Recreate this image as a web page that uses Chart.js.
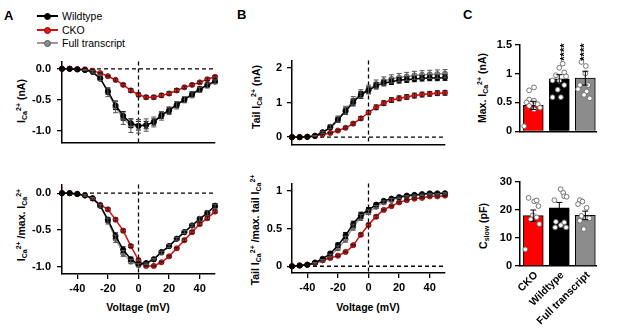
<!DOCTYPE html>
<html>
<head>
<meta charset="utf-8">
<script src="https://cdn.jsdelivr.net/npm/chart.js@4.4.0/dist/chart.umd.min.js"></script>
<style>
  body { margin: 0; width: 617px; height: 329px; position: relative; overflow: hidden; background: #fff;
         font-family: "Liberation Sans", Arial, sans-serif; color: #000; }
  canvas { position: absolute; }
  .panel { position: absolute; font-weight: bold; font-size: 13px; line-height: 13px; }
  .yt { position: absolute; font-weight: bold; font-size: 10.5px; white-space: nowrap; line-height: 12px;
        transform: translate(-50%, -50%) rotate(-90deg); }
  .xt { position: absolute; font-weight: bold; font-size: 10.5px; white-space: nowrap; line-height: 12px;
        transform: translate(-50%, -50%); }
  .yt sub, .yt sup { font-size: 7px; position: relative; vertical-align: baseline; }
  .yt sub { top: 2px; }
  .yt sup { top: -4px; }
  .leg { position: absolute; left: 37px; height: 0; }
  .leg i { position: absolute; left: 0; top: -0.75px; width: 21px; height: 1.5px; }
  .leg b { position: absolute; left: 7px; top: -3.5px; width: 5px; height: 5px; border-radius: 50%; border: 1px solid; }
  .leg span { position: absolute; left: 25px; top: -7px; font-size: 10.5px; line-height: 14px; white-space: nowrap; }
</style>
</head>
<body>
<div class="panel" style="left:4px;top:9px">A</div>
<div class="panel" style="left:237px;top:8px">B</div>
<div class="panel" style="left:463px;top:8px">C</div>

<div class="leg" style="top:16px"><i style="background:#000"></i><b style="background:#000;border-color:#000"></b><span>Wildtype</span></div>
<div class="leg" style="top:30px"><i style="background:#d41010"></i><b style="background:#e01818;border-color:#900"></b><span>CKO</span></div>
<div class="leg" style="top:43px"><i style="background:#999"></i><b style="background:#8c8c8c;border-color:#555"></b><span>Full transcript</span></div>

<div class="yt" style="left:22px;top:101px">I<sub>Ca</sub><sup>2+</sup> (nA)</div>
<div class="yt" style="left:22px;top:225px">I<sub>Ca</sub><sup>2+</sup> /max. I<sub>Ca</sub><sup>2+</sup></div>
<div class="yt" style="left:257px;top:97px">Tail I<sub>Ca</sub><sup>2+</sup> (nA)</div>
<div class="yt" style="left:256px;top:230px">Tail I<sub>Ca</sub><sup>2+</sup> /max. tail I<sub>Ca</sub><sup>2+</sup></div>
<div class="yt" style="left:483px;top:88px">Max. I<sub>Ca</sub><sup>2+</sup> (nA)</div>
<div class="yt" style="left:484px;top:226px">C<sub>slow</sub> (pF)</div>
<div class="xt" style="left:138px;top:307px">Voltage (mV)</div>
<div class="xt" style="left:368px;top:307px">Voltage (mV)</div>

<canvas id="aTop"></canvas>
<canvas id="aBot"></canvas>
<canvas id="bTop"></canvas>
<canvas id="bBot"></canvas>
<canvas id="cTop"></canvas>
<canvas id="cBot"></canvas>

<script>
// voltage steps (mV)
const volts = [-50, -45, -40, -35, -30, -25, -20, -15, -10, -5, 0, 5, 10, 15, 20, 25, 30, 35, 40, 45, 50];
const voltTicks = [-40, -20, 0, 20, 40];

// A top: peak ICa (nA)
const aTopWT  = [0, 0, -0.01, -0.02, -0.05, -0.16, -0.36, -0.59, -0.76, -0.88, -0.92, -0.91, -0.86, -0.75, -0.67, -0.58, -0.50, -0.41, -0.33, -0.26, -0.20];
const aTopCKO = [0, 0, -0.005, -0.01, -0.03, -0.07, -0.12, -0.18, -0.26, -0.35, -0.42, -0.46, -0.46, -0.43, -0.40, -0.35, -0.30, -0.26, -0.22, -0.17, -0.13];
const aTopFT  = [0, 0, -0.01, -0.02, -0.05, -0.15, -0.38, -0.62, -0.80, -0.92, -0.93, -0.91, -0.86, -0.76, -0.68, -0.59, -0.50, -0.42, -0.34, -0.27, -0.21];
const aTopWTErr  = [0, 0, 0, 0.01, 0.01, 0.03, 0.05, 0.07, 0.07, 0.07, 0.07, 0.06, 0.05, 0.05, 0.05, 0.05, 0.04, 0.04, 0.04, 0.03, 0.03];
const aTopCKOErr = [0, 0, 0, 0, 0.01, 0.01, 0.01, 0.02, 0.02, 0.03, 0.03, 0.03, 0.03, 0.03, 0.03, 0.03, 0.02, 0.02, 0.02, 0.02, 0.02];
const aTopFTErr  = [0, 0, 0, 0.01, 0.02, 0.04, 0.07, 0.09, 0.10, 0.11, 0.11, 0.10, 0.08, 0.07, 0.06, 0.06, 0.05, 0.05, 0.04, 0.04, 0.03];
const aTopTicks = [0, -0.5, -1];

// A bottom: normalised ICa
const aBotWT  = [0, 0, -0.01, -0.03, -0.07, -0.17, -0.36, -0.58, -0.77, -0.90, -0.97, -0.95, -0.90, -0.80, -0.72, -0.62, -0.53, -0.44, -0.35, -0.27, -0.17];
const aBotCKO = [0, 0, -0.01, -0.03, -0.07, -0.16, -0.22, -0.36, -0.51, -0.72, -0.91, -0.99, -0.99, -0.94, -0.86, -0.75, -0.64, -0.53, -0.42, -0.34, -0.25];
const aBotFT  = [0, 0, -0.01, -0.03, -0.07, -0.17, -0.38, -0.62, -0.82, -0.93, -0.98, -0.96, -0.90, -0.81, -0.72, -0.62, -0.53, -0.44, -0.35, -0.27, -0.18];
const aBotWTErr  = [0, 0, 0, 0.01, 0.01, 0.02, 0.03, 0.04, 0.04, 0.03, 0.02, 0.01, 0.01, 0.02, 0.02, 0.02, 0.02, 0.02, 0.02, 0.03, 0.03];
const aBotCKOErr = [0, 0, 0, 0.01, 0.01, 0.01, 0.02, 0.02, 0.02, 0.02, 0.02, 0.01, 0.01, 0.01, 0.01, 0.01, 0.02, 0.02, 0.02, 0.02, 0.02];
const aBotFTErr  = [0, 0, 0, 0.01, 0.01, 0.02, 0.04, 0.05, 0.04, 0.03, 0.02, 0.01, 0.01, 0.02, 0.02, 0.02, 0.02, 0.02, 0.03, 0.03, 0.03];
const aBotTicks = [0, -0.5, -1];

// B top: tail ICa (nA)
const bTopWT  = [0, 0, 0.01, 0.04, 0.14, 0.28, 0.50, 0.75, 1.00, 1.22, 1.35, 1.48, 1.56, 1.60, 1.64, 1.66, 1.68, 1.70, 1.71, 1.71, 1.72];
const bTopCKO = [0, 0, 0.01, 0.03, 0.08, 0.12, 0.19, 0.27, 0.39, 0.54, 0.71, 0.86, 0.98, 1.07, 1.12, 1.16, 1.20, 1.23, 1.25, 1.27, 1.28];
const bTopFT  = [0, 0, 0.01, 0.04, 0.14, 0.30, 0.52, 0.78, 1.05, 1.25, 1.38, 1.53, 1.62, 1.68, 1.72, 1.75, 1.78, 1.80, 1.81, 1.82, 1.83];
const bTopWTErr  = [0, 0, 0, 0.01, 0.03, 0.05, 0.07, 0.09, 0.10, 0.10, 0.10, 0.09, 0.08, 0.08, 0.08, 0.08, 0.08, 0.08, 0.08, 0.08, 0.08];
const bTopCKOErr = [0, 0, 0, 0.01, 0.01, 0.02, 0.02, 0.03, 0.04, 0.05, 0.06, 0.07, 0.07, 0.07, 0.07, 0.07, 0.07, 0.07, 0.07, 0.07, 0.07];
const bTopFTErr  = [0, 0, 0, 0.01, 0.03, 0.06, 0.09, 0.11, 0.12, 0.12, 0.12, 0.12, 0.12, 0.12, 0.12, 0.12, 0.12, 0.12, 0.12, 0.12, 0.12];
const bTopTicks = [0, 1, 2];

// B bottom: normalised tail ICa
const bBotWT  = [0, 0.01, 0.02, 0.05, 0.10, 0.17, 0.28, 0.41, 0.56, 0.68, 0.75, 0.82, 0.87, 0.90, 0.92, 0.94, 0.95, 0.96, 0.97, 0.97, 0.97];
const bBotCKO = [0, 0.01, 0.02, 0.04, 0.08, 0.11, 0.14, 0.19, 0.28, 0.42, 0.55, 0.66, 0.75, 0.80, 0.85, 0.88, 0.90, 0.91, 0.93, 0.93, 0.94];
const bBotFT  = [0, 0.01, 0.02, 0.04, 0.08, 0.14, 0.24, 0.36, 0.52, 0.65, 0.72, 0.79, 0.85, 0.88, 0.91, 0.93, 0.94, 0.95, 0.96, 0.96, 0.97];
const bBotWTErr  = [0, 0, 0, 0.01, 0.01, 0.02, 0.03, 0.04, 0.04, 0.04, 0.03, 0.02, 0.02, 0.01, 0.01, 0.01, 0.01, 0.01, 0.01, 0.01, 0.01];
const bBotCKOErr = [0, 0, 0, 0.01, 0.01, 0.01, 0.01, 0.01, 0.01, 0.02, 0.02, 0.02, 0.01, 0.01, 0.01, 0.01, 0.01, 0.01, 0.01, 0.01, 0.01];
const bBotFTErr  = [0, 0, 0, 0.01, 0.01, 0.02, 0.03, 0.04, 0.04, 0.04, 0.03, 0.02, 0.02, 0.02, 0.01, 0.01, 0.01, 0.01, 0.01, 0.01, 0.01];
const bBotTicks = [0, 0.5, 1];

// C: group summaries (CKO, Wildtype, Full transcript)
const groups = ['CKO', 'Wildtype', 'Full transcript'];
const cTopMean = [0.45, 0.91, 0.92];
const cTopErr  = [0.07, 0.07, 0.12];
const cTopCKO = [0.76, 0.71, 0.55, 0.50, 0.53, 0.47, 0.44, 0.41, 0.38, 0.09];
const cTopCKOJit = [0.03, -0.16, -0.16, -0.26, 0.03, 0.17, -0.16, 0.26, 0.03, -0.35];
const cTopWT  = [1.17, 1.10, 1.02, 0.97, 0.95, 0.88, 0.87, 0.80, 0.72, 0.59, 0.59];
const cTopWTJit  = [0.13, 0, 0.19, -0.13, 0.26, -0.26, 0, 0.19, -0.06, -0.26, 0.06];
const cTopFT  = [1.20, 1.13, 1.00, 0.80, 0.80, 0.73, 0.69, 0.63, 0.57];
const cTopFTJit  = [-0.15, 0.02, 0, -0.21, 0.11, -0.28, 0.05, -0.05, 0.17];
const cTopTicks = [0, 0.5, 1, 1.5];

const cBotMean = [17.9, 20.7, 18.0];
const cBotErr  = [2.0, 1.9, 1.5];
const cBotCKO = [24.2, 23.0, 23.3, 21.3, 18.0, 16.6, 17.3, 14.9, 5.9];
const cBotCKOJit = [-0.18, 0.04, 0.13, 0.2, -0.02, -0.09, 0.13, 0.23, -0.31];
const cBotWT  = [27.3, 26.0, 23.4, 24.8, 24.6, 15.7, 15.5, 14.5, 13.7, 13.7];
const cBotWTJit  = [0.05, 0.15, -0.19, 0.19, 0.28, -0.13, 0.19, 0.06, -0.16, 0.26];
const cBotFT  = [23.4, 22.9, 22.0, 20.7, 17.8, 16.9, 16.1, 16.9, 13.1];
const cBotFTJit  = [-0.21, -0.11, -0.28, 0.05, -0.15, 0.02, -0.21, 0.15, -0.06];
const cBotTicks = [0, 10, 20, 30];

Chart.defaults.font.family = '"Liberation Sans", Arial, sans-serif';
Chart.defaults.font.size = 11;
Chart.defaults.font.weight = 'bold';
Chart.defaults.color = '#000';
Chart.defaults.animation = false;

const PAD_T = 8, PAD_R = 6;

// size and position a canvas so that its plot area lands on the given page box
function place(id, area, yw, xh) {
  const c = document.getElementById(id);
  c.width = area[2] - area[0] + yw + PAD_R;
  c.height = area[3] - area[1] + xh + PAD_T;
  c.style.left = (area[0] - yw) + 'px';
  c.style.top = (area[1] - PAD_T) + 'px';
  return c;
}

function axis(min, max, ticks, fmt, pad, fit) {
  const shown = ticks.length > 0;
  return {
    type: 'linear', min: min, max: max, offset: false,
    afterBuildTicks: s => { if (shown) s.ticks = ticks.map(v => ({ value: v })); },
    afterFit: fit,
    ticks: { display: shown, callback: fmt, padding: pad, autoSkip: false, maxRotation: 0 },
    grid: { display: shown, drawOnChartArea: false, drawTicks: true, tickLength: 5, color: '#000', lineWidth: 1.3 },
    border: { display: true, color: '#000', width: 1.5 }
  };
}

const errorBars = {
  id: 'errorBars',
  afterDatasetsDraw(chart) {
    const ctx = chart.ctx, ys = chart.scales.y;
    chart.data.datasets.forEach((ds, i) => {
      if (!ds.errors) return;
      const meta = chart.getDatasetMeta(i);
      ctx.save();
      ctx.strokeStyle = ds.errColor || '#000';
      ctx.lineWidth = 1;
      meta.data.forEach((el, j) => {
        const e = ds.errors[j];
        if (!e) return;
        const v = ds.data[j].y;
        const y1 = ys.getPixelForValue(v + e), y2 = ys.getPixelForValue(v - e);
        const x = el.x, w = ds.capW || 2.5;
        ctx.beginPath();
        ctx.moveTo(x, y1); ctx.lineTo(x, y2);
        ctx.moveTo(x - w, y1); ctx.lineTo(x + w, y1);
        ctx.moveTo(x - w, y2); ctx.lineTo(x + w, y2);
        ctx.stroke();
      });
      ctx.restore();
    });
  }
};

const zeroLines = {
  id: 'zeroLines',
  beforeDatasetsDraw(chart) {
    const { ctx, chartArea: a, scales: { x, y } } = chart;
    const y0 = y.getPixelForValue(0), x0 = x.getPixelForValue(0);
    ctx.save();
    ctx.setLineDash([4, 3]);
    ctx.lineWidth = 1.3;
    ctx.strokeStyle = '#000';
    ctx.beginPath();
    ctx.moveTo(a.left, y0); ctx.lineTo(a.right, y0);
    ctx.moveTo(x0, a.top); ctx.lineTo(x0, a.bottom);
    ctx.stroke();
    ctx.restore();
  }
};

const stars = {
  id: 'stars',
  afterDatasetsDraw(chart, args, opts) {
    if (!opts.marks) return;
    const { ctx, scales: { x, y } } = chart;
    ctx.save();
    ctx.font = 'bold 11px "Liberation Sans", Arial';
    ctx.fillStyle = '#000';
    ctx.textAlign = 'center';
    ctx.textBaseline = 'middle';
    opts.marks.forEach(m => {
      ctx.save();
      ctx.translate(x.getPixelForValue(m.x), y.getPixelForValue(m.y));
      ctx.rotate(-Math.PI / 2);
      ctx.fillText(m.text, 0, 0);
      ctx.restore();
    });
    ctx.restore();
  }
};

const styles = {
  wt:  { color: '#000', fill: '#000', edge: '#000', err: '#000' },
  cko: { color: '#d41010', fill: '#e01818', edge: '#900', err: '#222' },
  ft:  { color: '#999', fill: '#8c8c8c', edge: '#555', err: '#555' }
};

function series(label, vals, errs, st, smooth) {
  return {
    label: label,
    data: volts.map((v, i) => ({ x: v, y: vals[i] })),
    errors: errs, errColor: st.err,
    borderColor: st.color, borderWidth: 1.5,
    pointBackgroundColor: st.fill, pointBorderColor: st.edge, pointBorderWidth: 0.8, pointRadius: 2.6,
    tension: smooth ? 0.4 : 0, cubicInterpolationMode: smooth ? 'monotone' : 'default',
    clip: false
  };
}

function linePanel(id, area, yMin, yMax, yTicks, fmt, sets, showX, yw, pad) {
  const xh = showX ? 30 : 8;
  place(id, area, yw, xh);
  new Chart(document.getElementById(id), {
    type: 'line',
    data: { datasets: sets },
    options: {
      responsive: false, devicePixelRatio: 1,
      layout: { padding: { top: PAD_T, right: PAD_R, left: 0, bottom: 0 } },
      plugins: { legend: { display: false }, tooltip: { enabled: false } },
      scales: {
        x: axis(-50, 50, showX ? voltTicks : [], v => String(v), 3, s => { s.height = xh; }),
        y: axis(yMin, yMax, yTicks, fmt, pad, s => { s.width = yw; })
      }
    },
    plugins: [zeroLines, errorBars]
  });
}

const fmtA = v => v.toFixed(1);
const fmtN = v => String(v);

linePanel('aTop', [62, 57, 215, 147], -1.19, 0.116, aTopTicks, fmtA, [
  series('Wildtype', aTopWT, aTopWTErr, styles.wt),
  series('CKO', aTopCKO, aTopCKOErr, styles.cko),
  series('Full transcript', aTopFT, aTopFTErr, styles.ft)
], false, 40, 6);

linePanel('aBot', [62, 180, 215, 274], -1.10, 0.117, aBotTicks, fmtA, [
  series('Wildtype', aBotWT, aBotWTErr, styles.wt),
  series('CKO', aBotCKO, aBotCKOErr, styles.cko),
  series('Full transcript', aBotFT, aBotFTErr, styles.ft)
], true, 40, 6);

linePanel('bTop', [292, 57, 445, 148], -0.21, 2.21, bTopTicks, fmtN, [
  series('Wildtype', bTopWT, bTopWTErr, styles.wt, true),
  series('CKO', bTopCKO, bTopCKOErr, styles.cko, true),
  series('Full transcript', bTopFT, bTopFTErr, styles.ft, true)
], false, 26, 5);

linePanel('bBot', [292, 180, 445, 273], -0.09, 1.10, bBotTicks, fmtN, [
  series('Wildtype', bBotWT, bBotWTErr, styles.wt, true),
  series('CKO', bBotCKO, bBotCKOErr, styles.cko, true),
  series('Full transcript', bBotFT, bBotFTErr, styles.ft, true)
], true, 26, 5);

function dots(vals, jit, g) {
  return vals.map((v, k) => ({ x: g + jit[k], y: v }));
}

function barPanel(id, area, yMax, yTicks, mean, err, pts, showNames, marks) {
  const yw = 28, xh = showNames ? 63 : 8;
  place(id, area, yw, xh);
  const xAxis = axis(-0.51, 2.41, showNames ? [0, 1, 2] : [], v => groups[v], -5, s => { s.height = xh; });
  xAxis.grid = { display: false };
  xAxis.ticks.minRotation = 45;
  xAxis.ticks.maxRotation = 45;
  xAxis.ticks.labelOffset = 3;
  xAxis.ticks.font = { size: 10.5, weight: 'bold' };
  new Chart(document.getElementById(id), {
    type: 'bar',
    data: {
      datasets: [
        {
          type: 'scatter', order: 1,
          data: pts,
          pointRadius: 2.4, pointBorderWidth: 0.9,
          pointBackgroundColor: '#fff', pointBorderColor: '#666', clip: false
        },
        {
          type: 'bar', order: 2,
          data: mean.map((m, i) => ({ x: i, y: m })),
          errors: err, errColor: '#000', capW: 3,
          backgroundColor: ['#ff0000', '#000000', '#8c8c8c'],
          borderColor: '#000', borderWidth: 1, barThickness: 20
        }
      ]
    },
    options: {
      responsive: false, devicePixelRatio: 1,
      layout: { padding: { top: PAD_T, right: PAD_R, left: 0, bottom: 0 } },
      plugins: { legend: { display: false }, tooltip: { enabled: false }, stars: { marks: marks } },
      scales: {
        x: xAxis,
        y: axis(0, yMax, yTicks, fmtN, 3, s => { s.width = yw; })
      }
    },
    plugins: [errorBars, stars]
  });
}

barPanel('cTop', [520, 43, 596, 133], 1.5, cTopTicks, cTopMean, cTopErr,
  [].concat(dots(cTopCKO, cTopCKOJit, 0), dots(cTopWT, cTopWTJit, 1), dots(cTopFT, cTopFTJit, 2)),
  false, [{ x: 1.2, y: 1.37, text: '****' }, { x: 2, y: 1.37, text: '****' }]);

barPanel('cBot', [520, 180, 596, 266], 30, cBotTicks, cBotMean, cBotErr,
  [].concat(dots(cBotCKO, cBotCKOJit, 0), dots(cBotWT, cBotWTJit, 1), dots(cBotFT, cBotFTJit, 2)),
  true, null);
</script>
</body>
</html>
